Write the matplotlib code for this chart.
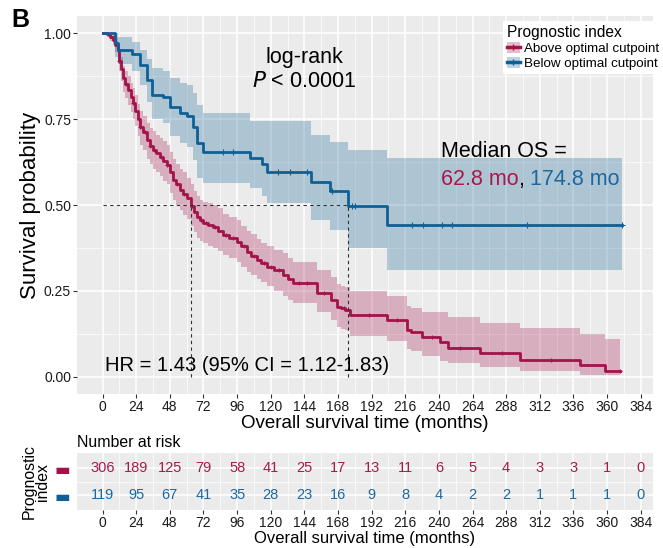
import numpy as np
import matplotlib.pyplot as plt
from matplotlib.patches import Patch
from matplotlib.lines import Line2D

plt.rcParams['font.family'] = ['Liberation Sans', 'DejaVu Sans']

# Kaplan-Meier estimates (months, survival, 95% CI)
above_t = [0, 3, 5, 7.4, 9, 10.9, 12, 13, 14.5, 16, 18, 20, 21.6, 23, 25, 26.6, 28.5, 31.6, 33.5, 35.9,
           38, 40.9, 43, 45.9, 48, 50.2, 52.5, 55.2, 57.5, 60.2, 62.8, 65, 67.3, 69.5, 71.6, 75, 78.7, 82,
           85.9, 90, 95.9, 99, 103, 106, 110, 113, 117.3, 122, 128.7, 132, 135.8, 153, 163, 167, 170, 173,
           176.5, 203, 217, 220, 228, 241, 246.5, 269.4, 298, 340.7, 358.5, 369]
above_s = [1.0, .997, .99, .98, .965, .95, .92, .895, .87, .852, .834, .815, .796, .775, .75, .727, .712, .689,
           .672, .66, .65, .64, .628, .616, .595, .573, .56, .544, .532, .52, .497, .48, .465, .455, .448, .442,
           .436, .425, .413, .405, .393, .38, .363, .352, .34, .33, .32, .31, .297, .285, .273, .244, .225, .204,
           .2, .195, .18, .166, .137, .13, .116, .10, .085, .07, .05, .035, .017, .017]
above_hi = [1.0, 1.0, 1.0, .995, .985, .975, .95, .93, .905, .89, .875, .855, .84, .82, .795, .775, .76, .74,
            .725, .715, .705, .695, .685, .675, .655, .635, .62, .605, .595, .58, .56, .54, .525, .515, .51, .505,
            .50, .49, .475, .465, .455, .44, .425, .415, .40, .39, .38, .37, .36, .345, .335, .31, .29, .27,
            .265, .26, .25, .235, .205, .2, .19, .19, .175, .157, .142, .125, .11, .11]
above_lo = [1.0, .99, .978, .965, .945, .925, .89, .86, .83, .81, .79, .77, .75, .73, .70, .675, .66, .635,
            .62, .605, .595, .585, .57, .56, .535, .515, .50, .485, .47, .46, .44, .42, .405, .395, .39, .38,
            .375, .365, .355, .345, .335, .32, .305, .295, .285, .275, .265, .25, .235, .225, .215, .19, .165,
            .145, .14, .135, .12, .105, .08, .075, .062, .045, .04, .03, .018, .006, .006, .006]

below_t = [0, 9, 11, 21, 26.6, 31.6, 35.2, 43, 48, 55, 60, 64.4, 67.3, 71.6, 105, 113.7, 117, 148.7, 162,
           175, 203, 370.7]
below_s = [1.0, .97, .95, .94, .907, .863, .82, .815, .785, .767, .76, .727, .68, .654, .637, .619, .596,
           .567, .541, .497, .442, .442]
below_hi = [1.0, 1.0, .99, .975, .95, .925, .90, .89, .87, .855, .85, .825, .79, .767, .745, .745, .745,
            .703, .683, .66, .637, .637]
below_lo = [1.0, .93, .91, .89, .85, .80, .75, .74, .70, .68, .67, .63, .58, .565, .55, .525, .505, .456,
            .427, .375, .311, .311]

above_cens = [4, 8, 12, 17, 22, 27, 30, 34, 37, 42, 46, 53, 58, 64, 70, 74, 80, 88, 93, 101, 108, 115,
              120, 126, 140, 146, 158, 172, 190, 210, 235, 255, 285, 320, 369]
below_cens = [86, 93, 125, 134, 146, 163.5, 178, 180, 220.5, 229, 242, 249, 303, 370.7]

median_above = 62.8
median_below = 174.8

risk_times = list(range(0, 385, 24))
risk_above = [306, 189, 125, 79, 58, 41, 25, 17, 13, 11, 6, 5, 4, 3, 3, 1, 0]
risk_below = [119, 95, 67, 41, 35, 28, 23, 16, 9, 8, 4, 2, 2, 1, 1, 1, 0]

groups = ['Above optimal cutpoint', 'Below optimal cutpoint']
red = '#A3134A'
blue = '#0F5F97'
red_txt = '#A8194C'
blue_txt = '#1D68A0'

fig = plt.figure(figsize=(6.63, 5.48), dpi=100)
ax = fig.add_axes([0.1161, 0.281, 0.8688, 0.6898])

xlim = (-18.3, 392.8)
x_breaks = np.arange(0, 385, 24)


def style_panel(a):
    a.set_facecolor('#EBEBEB')
    for sp in a.spines.values():
        sp.set_visible(False)
    a.set_xlim(*xlim)
    a.set_xticks(x_breaks)
    a.set_xticks(np.arange(12, 385, 24), minor=True)
    a.grid(which='major', color='white', lw=1.1)
    a.grid(which='minor', color='white', lw=0.5)
    a.set_axisbelow(True)
    a.tick_params(which='major', length=2.8, width=0.8, color='#333333', labelsize=10,
                  labelcolor='#1a1a1a', pad=1.5)
    a.tick_params(which='minor', length=0)


style_panel(ax)
ax.set_ylim(-0.05, 1.05)
ax.set_yticks([0, 0.25, 0.5, 0.75, 1.0])
ax.set_yticklabels(['0.00', '0.25', '0.50', '0.75', '1.00'])
ax.set_yticks([0.125, 0.375, 0.625, 0.875], minor=True)

for t, s, lo, hi, col, cens, ms in [(above_t, above_s, above_lo, above_hi, red, above_cens, 3),
                                    (below_t, below_s, below_lo, below_hi, blue, below_cens, 4)]:
    ax.fill_between(t, lo, hi, step='post', color=col, alpha=0.28, lw=0)
    ax.step(t, s, where='post', color=col, lw=2.0)
    idx = np.searchsorted(t, cens, side='right') - 1
    ax.plot(cens, np.array(s)[idx], '+', color=col, ms=ms, mew=0.8)

# median lines
ax.plot([0, median_below], [0.5, 0.5], ls=(0, (3, 3)), color='#333333', lw=0.8)
for m in [median_above, median_below]:
    ax.plot([m, m], [0, 0.5], ls=(0, (3, 3)), color='#333333', lw=0.8)

ax.set_ylabel('Survival probability', fontsize=16, labelpad=2)
ax.set_xlabel('Overall survival time (months)', fontsize=13.5, labelpad=0.5)

ax.text(144, 0.93, 'log-rank', fontsize=15.5, ha='center', va='center')
ax.text(144, 0.858, r'$\it{P}$ < 0.0001', fontsize=15.5, ha='center', va='center')
ax.text(241.5, 0.655, 'Median OS =', fontsize=15.5, ha='left', va='center')
t1 = ax.text(241.5, 0.545, '62.8 mo', fontsize=15.5, color=red_txt, ha='left', va='bottom')
t2 = ax.annotate(', ', xy=(1, 0), xycoords=t1, fontsize=15.5, color='black', ha='left', va='bottom')
ax.annotate('174.8 mo', xy=(1, 0), xycoords=t2, fontsize=15.5, color=blue_txt, ha='left', va='bottom')
ax.text(1.7, 0.032, 'HR = 1.43 (95% CI = 1.12-1.83)', fontsize=14.5, ha='left', va='center')

handles = [(Patch(facecolor=red, alpha=0.28, lw=0), Line2D([], [], color=red, lw=2.5, marker='+', ms=4)),
           (Patch(facecolor=blue, alpha=0.28, lw=0), Line2D([], [], color=blue, lw=2.5, marker='+', ms=4))]
leg = fig.legend(handles, groups, loc='upper right', bbox_to_anchor=(1.0, 1 - 21 / 548),
                 title='Prognostic index', fontsize=9.6, title_fontsize=11.2, frameon=True,
                 fancybox=False, edgecolor='none', facecolor='white', framealpha=1,
                 handlelength=1.0, handleheight=0.9, handletextpad=0.3, labelspacing=0.15,
                 borderpad=0.3, borderaxespad=0, alignment='left')

fig.text(0.03, 0.963, 'B', fontsize=18, weight='bold', ha='center', va='center')

# risk table
ax2 = fig.add_axes([0.1161, 0.0693, 0.8688, 0.104])
style_panel(ax2)
ax2.set_ylim(0.45, 2.55)
ax2.set_yticks([1, 2])
ax2.set_yticks([1.5], minor=True)
ax2.set_yticklabels(['\u25ac', '\u25ac'], fontsize=12, family='DejaVu Sans')
for lab, col in zip(ax2.get_yticklabels(), [blue, red]):
    lab.set_color(col)
ax2.tick_params(axis='y', length=0, pad=5)
for x, a, b in zip(risk_times, risk_above, risk_below):
    ax2.text(x, 2, str(a), color=red_txt, fontsize=10.5, ha='center', va='center')
    ax2.text(x, 1, str(b), color=blue_txt, fontsize=10.5, ha='center', va='center')
ax2.set_title('Number at risk', loc='left', fontsize=11.4, pad=4)
ax2.set_ylabel('Prognostic\nindex', fontsize=11.4, linespacing=0.9, labelpad=3)
ax2.set_xlabel('Overall survival time (months)', fontsize=12, labelpad=0.5)

fig.savefig('out.png', dpi=100)
